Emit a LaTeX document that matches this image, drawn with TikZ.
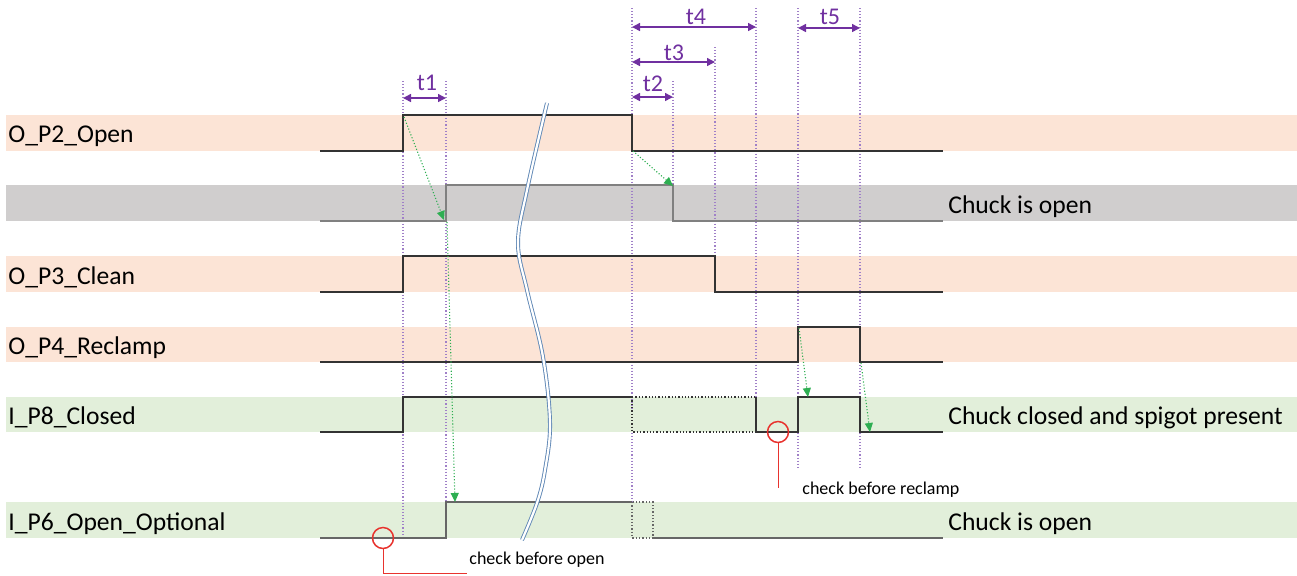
\documentclass[tikz,border=0pt]{standalone}
\usepackage{fontspec}
\setmainfont{Carlito}
\usetikzlibrary{arrows.meta,positioning}
\definecolor{bandout}{HTML}{FCE4D6}
\definecolor{bandstate}{HTML}{D0CECE}
\definecolor{bandin}{HTML}{E2EFDA}
\definecolor{timepurple}{HTML}{7030A0}
\definecolor{guidepurple}{HTML}{A080C8}
\definecolor{causegreen}{HTML}{2EAE52}
\definecolor{checkred}{HTML}{E8332E}
\definecolor{breakblue}{HTML}{5F87B5}

\begin{document}
\begin{tikzpicture}[
    x=0.5pt, y=-0.5pt,
    signame/.style={anchor=base west, inner sep=0pt, font=\fontsize{12.8}{15}\selectfont},
    timename/.style={anchor=base, inner sep=0pt, text=timepurple, font=\fontsize{12}{14}\selectfont},
    notename/.style={anchor=base west, inner sep=0pt, font=\fontsize{9}{11}\selectfont},
    wave/.style={draw=black!80, line width=0.65pt},
    guide/.style={draw=guidepurple, densely dotted, line width=0.55pt},
    timespan/.style={draw=timepurple, line width=0.75pt, {Triangle[length=4pt,width=4pt]}-{Triangle[length=4pt,width=4pt]}},
    cause/.style={draw=causegreen, densely dotted, line width=0.55pt, -{Triangle[length=4.5pt,width=4pt]}},
    check/.style={circle, draw=checkred, line width=0.75pt, minimum size=10.5pt, inner sep=0pt},
    >=Stealth
  ]
    \useasboundingbox (0,0) rectangle (1297,575);
    % bands
    \fill[bandout] (6,115) rectangle (1297,151);
    \fill[bandstate] (6,185) rectangle (1297,221);
    \fill[bandout] (6,256) rectangle (1297,292);
    \fill[bandout] (6,327) rectangle (1297,362);
    \fill[bandin] (6,397) rectangle (1297,432);
    \fill[bandin] (6,502) rectangle (1297,538);
    % signal names
    \node[signame] (p2) at (8,142) {O\_P2\_Open};
    \node[signame] (p3) at (8,284) {O\_P3\_Clean};
    \node[signame] (p4) at (8,354) {O\_P4\_Reclamp};
    \node[signame] (p8) at (8,424) {I\_P8\_Closed};
    \node[signame] (p6) at (8,530) {I\_P6\_Open\_Optional};
    \node[signame] (chuckopen) at (948,213) {Chuck is open};
    \node[signame] (chuckclosed) at (948,424) {Chuck closed and spigot present};
    \node[signame] (chuckopen2) at (948,530) {Chuck is open};
    % guide lines
    \draw[guide] (403,81) -- (403,538);
    \draw[guide] (446,81) -- (446,538);
    \draw[guide] (632,8) -- (632,502);
    \draw[guide] (673,81) -- (673,221);
    \draw[guide] (715,47) -- (715,292);
    \draw[guide] (756,8) -- (756,432);
    \draw[guide] (798,8) -- (798,467);
    \draw[guide] (860,8) -- (860,467);
    % waveforms
    \draw[wave] (320,151) -- (403,151) -- (403,115) -- (632,115) -- (632,151) -- (943,151);
    \draw[wave, draw=black!50, line width=1pt] (320,221) -- (446,221) -- (446,185) -- (673,185) -- (673,221) -- (943,221);
    \draw[wave] (320,292) -- (403,292) -- (403,256) -- (715,256) -- (715,292) -- (943,292);
    \draw[wave] (320,362) -- (798,362) -- (798,327) -- (860,327) -- (860,362) -- (943,362);
    \draw[wave] (320,432) -- (403,432) -- (403,397) -- (632,397);
    \draw[wave, densely dotted] (632,397) -- (756,397);
    \draw[wave, densely dotted] (632,397) -- (632,432) -- (756,432);
    \draw[wave] (756,397) -- (756,432) -- (798,432) -- (798,397) -- (860,397) -- (860,432) -- (943,432);
    \draw[wave, draw=black!60] (320,538) -- (446,538) -- (446,502) -- (632,502);
    \draw[wave, draw=black!60, densely dotted] (632,502) rectangle (653,538);
    \draw[wave, draw=black!60] (653,538) -- (943,538);
    % time spans
    \coordinate (t1a) at (403,98);
    \coordinate (t1b) at (446,98);
    \coordinate (t2a) at (632,97);
    \coordinate (t2b) at (673,97);
    \coordinate (t3a) at (632,62);
    \coordinate (t3b) at (715,62);
    \coordinate (t4a) at (632,27);
    \coordinate (t4b) at (756,27);
    \coordinate (t5a) at (798,28);
    \coordinate (t5b) at (860,28);
    \draw[timespan] (t1a) -- (t1b);
    \draw[timespan] (t2a) -- (t2b);
    \draw[timespan] (t3a) -- (t3b);
    \draw[timespan] (t4a) -- (t4b);
    \draw[timespan] (t5a) -- (t5b);
    \node[timename] (t1) at (427,90) {t1};
    \node[timename] (t2) at (653,91) {t2};
    \node[timename] (t3) at (674,60) {t3};
    \node[timename] (t4) at (696,24) {t4};
    \node[timename] (t5) at (830,24) {t5};
    % cause and effect
    \coordinate (p2rise) at (404,117);
    \coordinate (strise) at (444,220);
    \coordinate (stfrom) at (447,222);
    \coordinate (p6rise) at (455,502);
    \coordinate (p2fall) at (633,151);
    \coordinate (stfall) at (673,186);
    \coordinate (p4rise) at (799,328);
    \coordinate (p8rise) at (808,397);
    \coordinate (p4fall) at (861,363);
    \coordinate (p8fall) at (870,432);
    \draw[cause] (p2rise) -- (strise);
    \draw[cause] (stfrom) -- (p6rise);
    \draw[cause] (p2fall) -- (stfall);
    \draw[cause] (p4rise) -- (p8rise);
    \draw[cause] (p4fall) -- (p8fall);
    % time break
    \draw[breakblue, line width=0.45pt, double=white, double distance=1.1pt]
      plot[smooth, tension=0.6] coordinates {(547,103) (527,190) (518,243) (527,290) (543,357) (550,423) (545,470) (537,503) (522,540)};
    % checks
    \node[check] (chkopen) at (383,538) {};
    \node[check] (chkreclamp) at (778,432) {};
    \node[notename] (noteopen) at (469,564) {check before open};
    \node[notename] (notereclamp) at (802,494) {check before reclamp};
    \draw[checkred, line width=0.5pt] (chkopen.south) |- (467,573);
    \draw[checkred, line width=0.5pt] (chkreclamp.south) -- (778,488);
\end{tikzpicture}
\end{document}
